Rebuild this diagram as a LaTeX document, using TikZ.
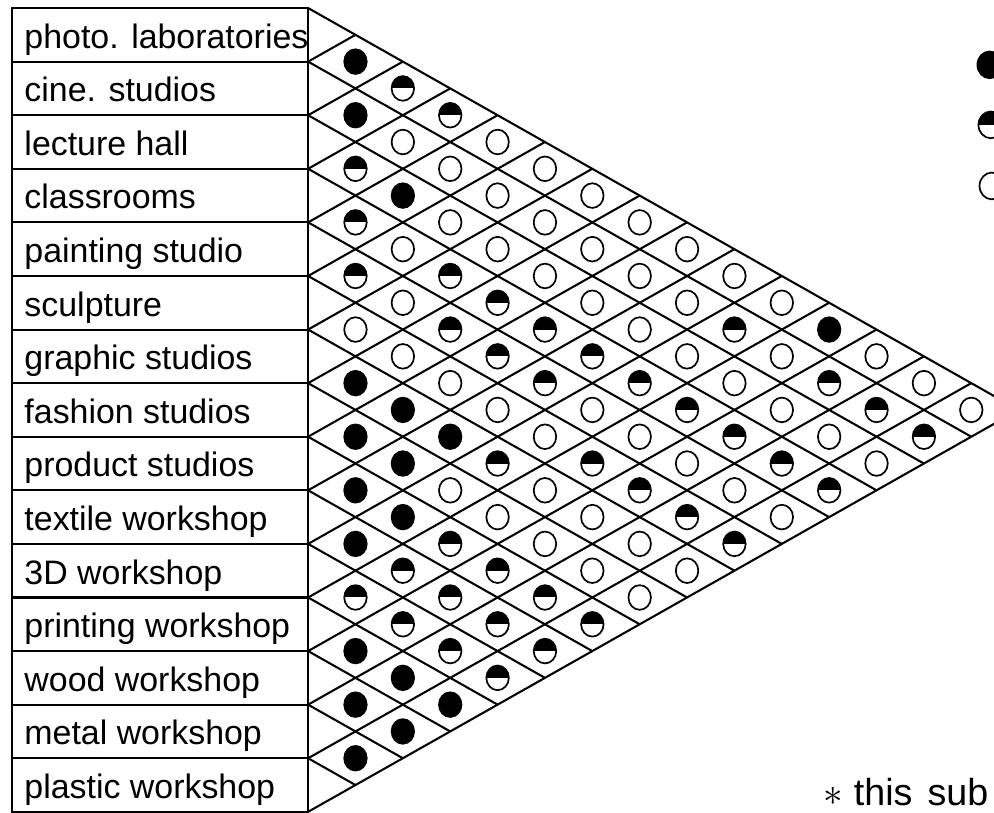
\documentclass[tikz,border=0pt]{standalone}
\usepackage{fontspec}
\setmainfont{Liberation Sans}
\usetikzlibrary{shapes.geometric}
\newcommand{\colstep}{0.884}
\tikzset{
    chart line/.style={line width=1.1pt, black},
    rowlabel/.style={anchor=base west, inner sep=0pt, font=\fontsize{18}{18}\selectfont},
    dotE/.style={ellipse, draw, line width=0.9pt, minimum width=0.42cm, minimum height=0.46cm, inner sep=0pt},
    dotF/.style={dotE, fill=black},
    dotH/.style={dotE, path picture={
            \fill[black] (path picture bounding box.west) rectangle (path picture bounding box.north east);
        }},
    keydot/.style={minimum width=0.46cm, minimum height=0.5cm},
    note/.style={anchor=base west, inner sep=0pt, font=\fontsize{20}{20}\selectfont}
}

\begin{document}
\begin{tikzpicture}
    \useasboundingbox (-5.75,-15.02) rectangle (12.8,0.15);
    \clip (-5.75,-15.02) rectangle (12.8,0.15);
    \foreach \m in {0,...,15}
        \coordinate (b\m) at (0,-\m);
    % label column
    \draw[chart line] (-5.52,0) rectangle (b15);
    \foreach \m in {1,...,14}
        \draw[chart line] (-5.52,-\m) -- (b\m);
    \foreach \txt [count=\i] in {photo. laboratories, cine. studios, lecture hall, classrooms,
        painting studio, sculpture, graphic studios, fashion studios, product studios,
        textile workshop, 3D workshop, printing workshop, wood workshop, metal workshop,
        plastic workshop}
        \node[rowlabel] (r\i) at (-5.3,{0.25-\i}) {\txt};
    % triangle
    \foreach \m in {0,...,14}
        \draw[chart line] (b\m) -- ({\colstep*(15-\m)},{-(\m+15)/2});
    \foreach \m in {1,...,15}
        \draw[chart line] (b\m) -- ({\colstep*\m},{-\m/2});
    \foreach \i/\vals in {
        1/{F,H,H,E,E,E,E,E,E,E,F,E,E,E},
        2/{F,E,E,E,E,E,E,E,H,E,H,H,H},
        3/{H,F,E,E,E,E,E,E,E,E,E,E},
        4/{H,E,H,H,H,H,H,H,H,H,H},
        5/{H,E,H,H,H,E,E,E,E,E},
        6/{E,E,E,E,E,H,H,H,H},
        7/{F,F,F,H,E,E,E,E},
        8/{F,F,E,E,E,E,E},
        9/{F,F,H,H,H,H},
        10/{F,H,H,H,H},
        11/{H,H,H,H},
        12/{F,F,F},
        13/{F,F},
        14/{F}}
        \foreach \v [count=\k] in \vals {
            \pgfmathtruncatemacro{\j}{\i+\k}
            \node[dot\v] (c\i-\j) at ({\colstep*\k},{-(2*\i+\k-1)/2}) {};
        }
    % key
    \node[dotF, keydot] (keyfull) at (12.72,-1.06) {};
    \node[dotH, keydot] (keyhalf) at (12.74,-2.18) {};
    \node[dotE, keydot] (keynone) at (12.76,-3.32) {};
    \node[note] (footnote) at (9.62,-14.89) {$\ast$ this\hspace{0.4em}sub};
\end{tikzpicture}
\end{document}
